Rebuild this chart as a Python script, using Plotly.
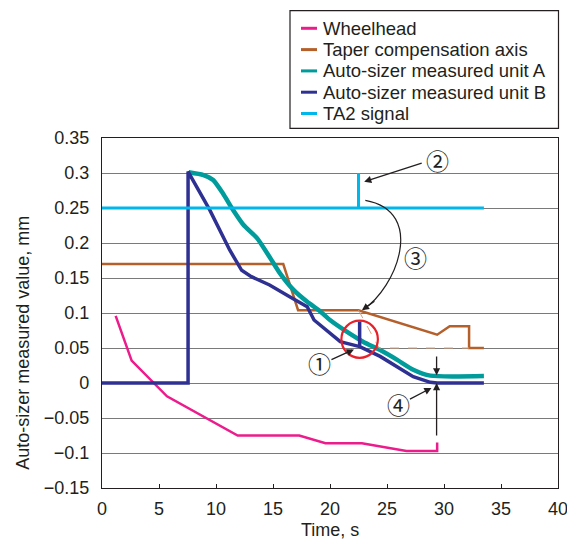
import plotly.graph_objects as go

# ---- data (time in s, values in mm) ----
wheel_t = [1.2, 2.6, 5.7, 11.9, 17.3, 19.6, 22.8, 26.7, 29.4, 29.4]
wheel_v = [0.096, 0.032, -0.019, -0.075, -0.075, -0.086, -0.086, -0.097, -0.097, -0.085]

taper_t = [0, 15.9, 17.2, 22.5, 29.4, 30.5, 32.2, 32.2, 33.5]
taper_v = [0.170, 0.170, 0.104, 0.104, 0.069, 0.081, 0.081, 0.050, 0.050]

taper_dash_t = [22.5, 24.3, 32.2]
taper_dash_v = [0.104, 0.050, 0.050]

unitA_t = [7.6, 8.9, 9.75, 10.6, 11.5, 12.4, 13.6, 14.7, 15.6, 16.8, 18.0, 19.1, 20.0,
           21.5, 22.9, 24.4, 25.9, 27.3, 28.8, 33.5]
unitA_v = [0.301, 0.297, 0.290, 0.271, 0.247, 0.226, 0.207, 0.180, 0.157, 0.133, 0.116,
           0.103, 0.090, 0.073, 0.059, 0.047, 0.033, 0.019, 0.0105, 0.010]

unitB_t = [0, 7.55, 7.55, 9.46, 11.2, 12.25, 13.1, 14.7, 16.5, 18.0, 18.6, 20.0, 20.9,
           22.6, 22.6, 22.6, 24.4, 25.9, 27.3, 28.8, 29.4, 33.5]
unitB_v = [0.0, 0.0, 0.302, 0.247, 0.190, 0.161, 0.152, 0.140, 0.123, 0.109, 0.090,
           0.071, 0.059, 0.052, 0.088, 0.052, 0.038, 0.023, 0.009, 0.001, 0.0, 0.0]

ta2_t = [0, 22.5, 22.5, 22.5, 33.5]
ta2_v = [0.25, 0.25, 0.30, 0.25, 0.25]

names = ["Wheelhead", "Taper compensation axis", "Auto-sizer measured unit A",
         "Auto-sizer measured unit B", "TA2 signal"]
colors = ["#EC1C8C", "#B5602B", "#009B9B", "#2E3192", "#00B7EB"]

y_ticks = [-0.15, -0.1, -0.05, 0, 0.05, 0.1, 0.15, 0.2, 0.25, 0.3, 0.35]
x_ticks = [0, 5, 10, 15, 20, 25, 30, 35, 40]

FONT = "Liberation Sans, Arial, sans-serif"
SYM = "Noto Sans CJK JP, DejaVu Sans, sans-serif"
INK = "#231F20"

# plot-area geometry (page pixels) used to place the legend box in paper coords
PL, PR, PT, PB = 102.0, 558.0, 138.0, 488.0
def px(xp):
    return (xp - PL) / (PR - PL)
def py(yp):
    return (PB - yp) / (PB - PT)

fig = go.Figure()
fig.add_trace(go.Scatter(x=wheel_t, y=wheel_v, mode="lines", name=names[0],
                         line=dict(color=colors[0], width=2.5)))
fig.add_trace(go.Scatter(x=taper_t, y=taper_v, mode="lines", name=names[1],
                         line=dict(color=colors[1], width=2.5)))
fig.add_trace(go.Scatter(x=unitA_t, y=unitA_v, mode="lines", name=names[2],
                         line=dict(color=colors[2], width=4.5, shape="spline", smoothing=0.6)))
fig.add_trace(go.Scatter(x=unitB_t, y=unitB_v, mode="lines", name=names[3],
                         line=dict(color=colors[3], width=3.5)))
fig.add_trace(go.Scatter(x=ta2_t, y=ta2_v, mode="lines", name=names[4],
                         line=dict(color=colors[4], width=3)))
fig.add_trace(go.Scatter(x=taper_dash_t, y=taper_dash_v, mode="lines", name="",
                         line=dict(color="#D9A07A", width=1, dash="dash")))

shapes = []
# red circle
shapes.append(dict(type="circle", xref="x", yref="y", x0=21.0, x1=24.2, y0=0.036, y1=0.089,
                   line=dict(color="#E8202A", width=2.2)))
# curved arrow (3)
shapes.append(dict(type="path", xref="x", yref="y",
                   path="M 23.1,0.261 C 28.5,0.245 25.8,0.135 22.9,0.105",
                   line=dict(color=INK, width=1.2)))

ann = []
def arrow(x, y, ax, ay, axref="pixel"):
    d = dict(x=x, y=y, xref="x", yref="y", ax=ax, ay=ay, text="", showarrow=True,
             arrowhead=2, arrowsize=1.1, arrowwidth=1.3, arrowcolor=INK)
    if axref != "pixel":
        d.update(axref="x", ayref="y")
    ann.append(d)

arrow(22.1, 0.048, -24, 11)           # (1)
arrow(23.0, 0.2876, 59, -19)          # (2)
arrow(22.8, 0.104, 14, -10)           # (3) head
arrow(28.9, -0.007, -23, 12)          # (4)
arrow(29.35, 0.011, 29.35, 0.04, "x")
arrow(29.35, 0.0, 29.35, -0.077, "x")

for txt, x, y in [("①", 19.07, 0.028), ("②", 29.4, 0.3186), ("③", 27.5, 0.18), ("④", 26.0, -0.030)]:
    ann.append(dict(x=x, y=y, xref="x", yref="y", text=txt, showarrow=False,
                    font=dict(family=SYM, size=23, color=INK)))

# axis titles
ann.append(dict(x=px(22.7), y=0.057, xref="paper", yref="y", text="Auto-sizer measured value, mm",
                textangle=-90, showarrow=False, xanchor="center", yanchor="middle",
                font=dict(family=FONT, size=18, color=INK)))
ann.append(dict(x=0.5, y=py(530), xref="paper", yref="paper", text="Time, s",
                showarrow=False, xanchor="center", yanchor="middle",
                font=dict(family=FONT, size=18, color=INK)))

# legend box (drawn with the trace names/colours)
shapes.append(dict(type="rect", xref="paper", yref="paper", x0=px(290), x1=px(558.5),
                   y0=py(128.3), y1=py(10.7), line=dict(color=INK, width=1.2),
                   fillcolor="white", layer="above"))
for i, (nm, col) in enumerate(zip(names, colors)):
    yc = 28.3 + i * 21.3
    shapes.append(dict(type="line", xref="paper", yref="paper", x0=px(301), x1=px(317),
                       y0=py(yc), y1=py(yc), line=dict(color=col, width=3), layer="above"))
    ann.append(dict(x=px(321), y=py(yc), xref="paper", yref="paper", text=nm,
                    showarrow=False, xanchor="left", yanchor="middle",
                    font=dict(family=FONT, size=18.5, color=INK)))

fig.update_layout(
    width=567, height=534,
    margin=dict(l=94, r=17, t=130, b=54),
    paper_bgcolor="white", plot_bgcolor="white",
    font=dict(family=FONT, size=18, color=INK),
    annotations=ann, shapes=shapes,
    showlegend=False,
    xaxis=dict(range=[0, 40], tickvals=x_ticks, ticks="inside", ticklen=4,
               tickcolor=INK, showgrid=False, zeroline=False, ticklabelstandoff=4,
               showline=True, linecolor=INK, linewidth=1.2, mirror=True, automargin=False),
    yaxis=dict(range=[-0.15, 0.35], tickvals=y_ticks, ticks="", showgrid=True,
               gridcolor="#7A7A7A", gridwidth=1, zeroline=False, ticklabelstandoff=8,
               showline=True, linecolor=INK, linewidth=1.2, mirror=True, automargin=False),
)

fig.write_html("out.html", config={"displayModeBar": False})
